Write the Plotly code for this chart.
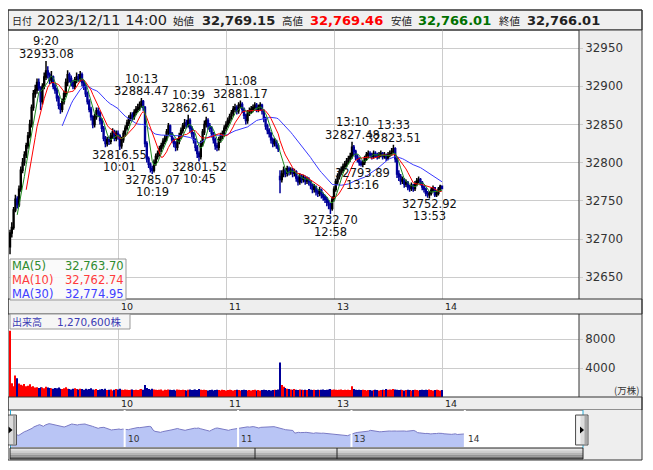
import plotly.graph_objects as go
import pandas as pd

W, H = 653, 470
OFF = 8  # page body margin: screen pixel p maps to figure pixel p - 8
def fx(p): return (p - OFF) / W
def fy(p): return 1 - (p - OFF) / H

FONT = "DejaVu Sans, Noto Sans CJK JP"
JP = "Noto Sans CJK JP, DejaVu Sans"

# ---------------- data (1-minute bars, index = trading minute from 9:00; 150 = 12:30) -------------
minutes = list(range(241))
opens = [32690, 32708, 32715, 32738, 32752, 32745, 32765, 32790, 32800, 32810,
         32822, 32835, 32850, 32872, 32890, 32895, 32905, 32898, 32880, 32900,
         32912, 32920, 32915, 32908, 32912, 32900, 32895, 32885, 32875, 32870,
         32880, 32890, 32905, 32915, 32910, 32905, 32900, 32908, 32912, 32910,
         32915, 32905, 32900, 32890, 32880, 32870, 32860, 32850, 32860, 32868,
         32865, 32855, 32845, 32832, 32825, 32830, 32828, 32835, 32840, 32832,
         32838, 32835, 32822, 32830, 32838, 32845, 32852, 32858, 32862, 32860,
         32866, 32870, 32872, 32876, 32880, 32872, 32825, 32805, 32798, 32792,
         32790, 32800, 32808, 32812, 32818, 32822, 32828, 32832, 32840, 32848,
         32838, 32830, 32825, 32820, 32828, 32835, 32842, 32848, 32852, 32850,
         32855, 32845, 32838, 32830, 32820, 32812, 32808, 32825, 32840, 32850,
         32855, 32848, 32845, 32838, 32830, 32822, 32820, 32830, 32835, 32838,
         32845, 32850, 32855, 32860, 32865, 32870, 32872, 32868, 32875, 32876,
         32870, 32862, 32855, 32865, 32868, 32870, 32872, 32875, 32870, 32872,
         32875, 32868, 32858, 32848, 32842, 32838, 32830, 32825, 32828, 32822,
         32782, 32778, 32785, 32790, 32786, 32792, 32788, 32790, 32786, 32788,
         32780, 32775, 32782, 32778, 32780, 32776, 32778, 32775, 32770, 32765,
         32768, 32762, 32760, 32764, 32758, 32755, 32752, 32748, 32745, 32740,
         32752, 32765, 32775, 32782, 32788, 32790, 32795, 32798, 32802, 32805,
         32808, 32820, 32815, 32808, 32805, 32800, 32798, 32800, 32805, 32810,
         32812, 32810, 32808, 32812, 32810, 32808, 32810, 32812, 32808, 32810,
         32806, 32810, 32812, 32815, 32818, 32805, 32785, 32782, 32776, 32778,
         32772, 32774, 32768, 32766, 32770, 32766, 32772, 32776, 32778, 32774,
         32768, 32765, 32760, 32758, 32760, 32764, 32767, 32758, 32760, 32765,
         32769.15]
highs = [32712, 32722, 32742, 32758, 32756, 32770, 32795, 32806, 32815, 32826,
         32840, 32856, 32876, 32895, 32902, 32910, 32910, 32900, 32904, 32918,
         32933.08, 32926, 32918, 32920, 32914, 32904, 32898, 32888, 32878, 32884,
         32894, 32910, 32921, 32918, 32914, 32908, 32912, 32918, 32916, 32920,
         32918, 32908, 32903, 32893, 32883, 32873, 32862, 32864, 32872, 32872,
         32868, 32858, 32848, 32835, 32834, 32834, 32839, 32845, 32843, 32842,
         32842, 32837, 32834, 32842, 32849, 32856, 32862, 32866, 32866, 32870,
         32874, 32877, 32880, 32884.47, 32882, 32874, 32828, 32808, 32800, 32796,
         32804, 32812, 32816, 32822, 32826, 32832, 32836, 32844, 32852, 32850,
         32840, 32833, 32828, 32832, 32839, 32846, 32852, 32857, 32856, 32862.61,
         32858, 32848, 32840, 32832, 32823, 32815, 32829, 32844, 32855, 32860,
         32858, 32852, 32848, 32840, 32833, 32826, 32834, 32839, 32842, 32849,
         32854, 32859, 32864, 32869, 32874, 32877, 32875, 32879, 32881.17, 32879,
         32872, 32864, 32869, 32872, 32874, 32876, 32879, 32878, 32876, 32879,
         32877, 32870, 32860, 32851, 32845, 32840, 32833, 32832, 32830, 32825,
         32790, 32790, 32795, 32793, 32796, 32795, 32794, 32793, 32792, 32790,
         32783, 32786, 32785, 32784, 32783, 32782, 32781, 32777, 32772, 32772,
         32770, 32765, 32768, 32766, 32761, 32758, 32755, 32751, 32747, 32756,
         32769, 32779, 32786, 32792, 32795, 32799, 32802, 32806, 32809, 32813,
         32827.48, 32823, 32817, 32811, 32807, 32803, 32803, 32809, 32814, 32816,
         32815, 32813, 32816, 32815, 32813, 32814, 32816, 32814, 32814, 32812,
         32814, 32816, 32819, 32823.51, 32820, 32807, 32790, 32785, 32782, 32780,
         32778, 32776, 32771, 32774, 32772, 32776, 32780, 32782, 32780, 32776,
         32770, 32767, 32763, 32763, 32767, 32770, 32768, 32764, 32768, 32771,
         32769.46]
lows = [32680, 32702, 32712, 32735, 32740, 32742, 32762, 32786, 32796, 32806,
        32818, 32832, 32846, 32868, 32885, 32890, 32894, 32869, 32876, 32896,
        32908, 32910, 32903, 32904, 32896, 32890, 32880, 32870, 32864, 32866,
        32876, 32886, 32900, 32905, 32900, 32896, 32896, 32904, 32906, 32906,
        32900, 32895, 32886, 32876, 32866, 32855, 32845, 32846, 32856, 32860,
        32850, 32840, 32828, 32820, 32821, 32823, 32824, 32831, 32828, 32828,
        32830, 32816.55, 32818, 32826, 32834, 32842, 32848, 32854, 32855, 32856,
        32862, 32866, 32868, 32872, 32868, 32820, 32800, 32793, 32787, 32785.07,
        32787, 32796, 32804, 32808, 32814, 32818, 32824, 32828, 32836, 32834,
        32826, 32820, 32815, 32816, 32824, 32831, 32838, 32844, 32845, 32846,
        32840, 32833, 32825, 32815, 32806, 32801.52, 32804, 32821, 32836, 32846,
        32843, 32840, 32833, 32825, 32817, 32815, 32816, 32826, 32831, 32834,
        32841, 32846, 32851, 32856, 32861, 32866, 32863, 32864, 32871, 32865,
        32857, 32850, 32851, 32861, 32864, 32866, 32868, 32866, 32866, 32868,
        32863, 32853, 32843, 32837, 32833, 32825, 32820, 32821, 32818, 32814,
        32760, 32774, 32781, 32781, 32782, 32783, 32784, 32781, 32782, 32775,
        32770, 32771, 32773, 32774, 32771, 32772, 32770, 32765, 32760, 32761,
        32757, 32755, 32756, 32753, 32750, 32747, 32743, 32739, 32732.70, 32737,
        32749, 32762, 32771, 32778, 32784, 32786, 32791, 32794, 32798, 32801,
        32805, 32810, 32803, 32800, 32796, 32795, 32793.89, 32797, 32802, 32806,
        32806, 32804, 32805, 32806, 32804, 32805, 32807, 32804, 32805, 32802,
        32803, 32807, 32809, 32812, 32800, 32780, 32776, 32771, 32772, 32767,
        32768, 32764, 32762, 32763, 32762, 32763, 32769, 32773, 32770, 32764,
        32761, 32756, 32754, 32752.92, 32757, 32761, 32755, 32755, 32757, 32762,
        32766.01]
closes = [32708, 32715, 32738, 32752, 32745, 32765, 32790, 32800, 32810, 32822,
          32835, 32850, 32872, 32890, 32895, 32905, 32898, 32880, 32900, 32912,
          32920, 32915, 32908, 32912, 32900, 32895, 32885, 32875, 32870, 32880,
          32890, 32905, 32915, 32910, 32905, 32900, 32908, 32912, 32910, 32915,
          32905, 32900, 32890, 32880, 32870, 32860, 32850, 32860, 32868, 32865,
          32855, 32845, 32832, 32825, 32830, 32828, 32835, 32840, 32832, 32838,
          32835, 32822, 32830, 32838, 32845, 32852, 32858, 32862, 32860, 32866,
          32870, 32872, 32876, 32880, 32872, 32825, 32805, 32798, 32792, 32790,
          32800, 32808, 32812, 32818, 32822, 32828, 32832, 32840, 32848, 32838,
          32830, 32825, 32820, 32828, 32835, 32842, 32848, 32852, 32850, 32855,
          32845, 32838, 32830, 32820, 32812, 32808, 32825, 32840, 32850, 32855,
          32848, 32845, 32838, 32830, 32822, 32820, 32830, 32835, 32838, 32845,
          32850, 32855, 32860, 32865, 32870, 32872, 32868, 32875, 32876, 32870,
          32862, 32855, 32865, 32868, 32870, 32872, 32875, 32870, 32872, 32875,
          32868, 32858, 32848, 32842, 32838, 32830, 32825, 32828, 32822, 32818,
          32778, 32785, 32790, 32786, 32792, 32788, 32790, 32786, 32788, 32780,
          32775, 32782, 32778, 32780, 32776, 32778, 32775, 32770, 32765, 32768,
          32762, 32760, 32764, 32758, 32755, 32752, 32748, 32745, 32740, 32752,
          32765, 32775, 32782, 32788, 32790, 32795, 32798, 32802, 32805, 32808,
          32820, 32815, 32808, 32805, 32800, 32798, 32800, 32805, 32810, 32812,
          32810, 32808, 32812, 32810, 32808, 32810, 32812, 32808, 32810, 32806,
          32810, 32812, 32815, 32818, 32805, 32785, 32782, 32776, 32778, 32772,
          32774, 32768, 32766, 32770, 32766, 32772, 32776, 32778, 32774, 32768,
          32765, 32760, 32758, 32760, 32764, 32767, 32758, 32760, 32765, 32769.15,
          32766.01]
volumes = [9150, 1900, 1500, 2950, 2600, 1850, 1700, 1600, 1800, 1500,
           1550, 1750, 1400, 1500, 1300, 1350, 1250, 1350, 1300, 1200,
           1400, 1300, 1250, 1200, 1150, 1250, 1200, 1300, 1150, 1100,
           1200, 1350, 1150, 1100, 1050, 1150, 1200, 1100, 1050, 1150,
           1100, 1000, 1150, 1050, 1100, 1200, 1050, 1000, 1100, 950,
           1050, 1100, 1000, 1150, 950, 1000, 1050, 900, 1000, 1100,
           1050, 1150, 1000, 950, 1050, 1000, 950, 1000, 1050, 950,
           1000, 950, 1050, 1100, 1000, 1650, 1250, 1100, 1000, 1150,
           1050, 1000, 950, 1000, 1050, 900, 1000, 950, 1050, 1000,
           950, 1000, 900, 1050, 1000, 950, 1000, 950, 900, 1000,
           1050, 950, 1000, 1050, 950, 1100, 1000, 950, 1000, 950,
           900, 950, 1000, 900, 950, 1000, 950, 900, 1000, 950,
           900, 950, 1000, 950, 900, 950, 1000, 950, 900, 950,
           1000, 950, 900, 950, 900, 950, 1000, 900, 950, 900,
           950, 1000, 950, 900, 950, 900, 950, 1000, 950, 1050,
           4750, 1650, 1400, 1250, 1150, 1100, 1050, 1000, 1100, 1000,
           950, 1050, 1000, 950, 1000, 950, 1100, 1000, 950, 1000,
           950, 1000, 950, 1000, 1050, 950, 1000, 1050, 1100, 1000,
           1050, 1000, 950, 1000, 1050, 950, 1000, 950, 1000, 950,
           1500, 1100, 1000, 950, 1000, 950, 1000, 950, 900, 950,
           950, 900, 950, 1000, 950, 900, 950, 1000, 950, 1100,
           1000, 1050, 1000, 1100, 1050, 1000, 950, 1000, 950, 900,
           950, 1000, 950, 900, 950, 1000, 950, 900, 950, 1000,
           950, 1000, 950, 1050, 950, 900, 950, 1000, 950, 900,
           950]

hour_ticks = [60, 120, 180, 240]
hour_labels = ["10", "11", "13", "14"]
price_ticks = [32650, 32700, 32750, 32800, 32850, 32900, 32950]
volume_ticks = [4000, 8000]

# extremes labelled on the chart
ext_index = [20, 61, 73, 79, 99, 105, 128, 178, 190, 196, 213, 233]
ext_time = ["9:20", "10:01", "10:13", "10:19", "10:39", "10:45", "11:08",
            "12:58", "13:10", "13:16", "13:33", "13:53"]
ext_kind = ["H", "L", "H", "L", "H", "L", "H", "L", "H", "L", "H", "L"]

header_date = "2023/12/11 14:00"
header_open, header_high, header_low, header_close = "32,769.15", "32,769.46", "32,766.01", "32,766.01"
ma_last = ["32,763.70", "32,762.74", "32,774.95"]
volume_total = "1,270,600株"

# ---------------- derived -----------------
cs = pd.Series(closes)
ma5 = cs.rolling(5).mean()
ma10 = cs.rolling(10).mean()
ma30 = cs.rolling(30).mean()
vol_colors = ["#ff0000" if c >= o else "#000099" for o, c in zip(opens, closes)]

fig = go.Figure()
fig.add_trace(go.Candlestick(
    x=minutes, open=opens, high=highs, low=lows, close=closes,
    increasing=dict(line=dict(color="#000000", width=1.5), fillcolor="#000000"),
    decreasing=dict(line=dict(color="#000099", width=1.5), fillcolor="#000099"),
    whiskerwidth=0, xaxis="x", yaxis="y", hoverinfo="skip", showlegend=False))
for s, col in [(ma30, "#3a3aff"), (ma10, "#ff0000"), (ma5, "#1f8a1f")]:
    fig.add_trace(go.Scatter(x=minutes, y=s, mode="lines", line=dict(color=col, width=1),
                             xaxis="x", yaxis="y", hoverinfo="skip", showlegend=False))
fig.add_trace(go.Bar(x=minutes, y=volumes, marker=dict(color=vol_colors, line=dict(width=0)),
                     width=0.55, xaxis="x2", yaxis="y2", hoverinfo="skip", showlegend=False))
fig.add_trace(go.Scatter(x=minutes, y=closes, mode="lines", fill="tozeroy",
                         fillcolor="#b9c5f5", line=dict(color="#7a7ac4", width=1),
                         xaxis="x3", yaxis="y3", hoverinfo="skip", showlegend=False))

XR = [-0.56, 316.1]
grid = "#cccccc"
fig.update_layout(
    width=W, height=H, margin=dict(l=0, r=0, t=0, b=0),
    paper_bgcolor="white", plot_bgcolor="white", showlegend=False,
    font=dict(family=FONT, size=11, color="#222"),
    xaxis=dict(domain=[fx(9), fx(579)], range=XR, tickvals=hour_ticks, showticklabels=False,
               showgrid=True, gridcolor=grid, gridwidth=1, zeroline=False, ticks="",
               rangeslider=dict(visible=False), fixedrange=True),
    yaxis=dict(domain=[fy(299), fy(29)], range=[32621.5, 32974.9], side="right", anchor="x",
               tickvals=price_ticks, ticktext=[str(v) for v in price_ticks],
               showgrid=True, gridcolor=grid, zeroline=False, ticks="outside", ticklen=3,
               tickcolor=grid, tickfont=dict(size=11.8, color="#333")),
    xaxis2=dict(domain=[fx(9), fx(579)], range=XR, tickvals=hour_ticks, showticklabels=False,
                showgrid=True, gridcolor=grid, zeroline=False, ticks="", anchor="y2"),
    yaxis2=dict(domain=[fy(397), fy(314)], range=[0, 11450], side="right", anchor="x2",
                tickvals=volume_ticks, ticktext=[str(v) for v in volume_ticks],
                showgrid=True, gridcolor=grid, zeroline=False, ticks="outside", ticklen=3,
                tickcolor=grid, tickfont=dict(size=11.8, color="#333")),
    xaxis3=dict(domain=[fx(10.5), fx(583)], range=[-0.4, 302.5], visible=False, anchor="y3"),
    yaxis3=dict(domain=[fy(447), fy(410)], range=[32570, 33125], visible=False, anchor="x3"),
    bargap=0.3,
)

shapes = []
def rect(x0, y0, x1, y1, fill=None, line=None, lw=1, layer="below"):
    shapes.append(dict(type="rect", xref="paper", yref="paper", x0=fx(x0), x1=fx(x1),
                       y0=fy(y1), y1=fy(y0), fillcolor=fill or "rgba(0,0,0,0)",
                       line=dict(color=line or "rgba(0,0,0,0)", width=lw if line else 0),
                       layer=layer))
def hline(x0, x1, y, color="#333", w=1, layer="above"):
    shapes.append(dict(type="line", xref="paper", yref="paper", x0=fx(x0), x1=fx(x1),
                       y0=fy(y), y1=fy(y), line=dict(color=color, width=w), layer=layer))
def vline(x, y0, y1, color="#333", w=1, layer="above"):
    shapes.append(dict(type="line", xref="paper", yref="paper", x0=fx(x), x1=fx(x),
                       y0=fy(y0), y1=fy(y1), line=dict(color=color, width=w), layer=layer))

GRAY = "#eeeeee"
# header
rect(8, 10, 642, 30, fill="#f0f0f0", line="#333", layer="below")
# right axis panels
rect(579, 30, 642, 299, fill=GRAY, layer="below")
rect(579, 314, 642, 397, fill=GRAY, layer="below")
vline(579, 30, 299)
vline(579, 314, 397)
# strips
rect(8, 299, 642, 314, fill=GRAY, line="#333", layer="above")
rect(8, 397, 642, 410, fill=GRAY, line="#333", layer="above")
# navigator
rect(583, 410, 642, 460, fill=GRAY, layer="above")
vline(10.5, 410, 448, color="#29a9d4")
vline(583, 410, 448, color="#29a9d4")
for t in hour_ticks:
    shapes.append(dict(type="line", xref="x3", yref="paper", x0=t, x1=t, y0=fy(448), y1=fy(410),
                       line=dict(color="white", width=2), layer="above"))
# scrollbar gradient
bands = ["#e4e4e4", "#cfcfcf", "#b4b4b4", "#959595", "#707070"]
for i, col in enumerate(bands):
    rect(10, 448 + i * 2.2, 583, 448 + (i + 1) * 2.2, fill=col, layer="above")
rect(10, 448, 583, 459, line="#222", layer="above")
vline(255, 448, 459, color="#222")
vline(337, 448, 459, color="#222")
# handles
for hx in (4, 575.5):
    rect(hx, 415, hx + 12.5, 445, fill="#dcdcdc", line="#555", layer="above")
    rect(hx + 1, 416, hx + 5, 444, fill="#f4f4f4", layer="above")
    rect(hx + 9, 416, hx + 11.5, 444, fill="#a8a8a8", layer="above")
    shapes.append(dict(type="path", xref="paper", yref="paper",
                       path="M {} {} L {} {} L {} {} Z".format(fx(hx + 4.5), fy(426.5), fx(hx + 8.5), fy(430), fx(hx + 4.5), fy(433.5)),
                       fillcolor="black", line=dict(width=0), layer="above"))
# MA legend box and volume legend box
rect(10, 259, 126, 300, fill="rgba(250,250,250,0.92)", line="#999", layer="above")
rect(10, 314, 130, 329, fill="rgba(245,245,245,0.95)", line="#999", layer="above")
# outer frame
rect(8, 10, 642, 460, line="#333", layer="above")
hline(8, 642, 30)
fig.update_layout(shapes=shapes)

ann = []
def text(t, x, y, anchor="left", size=11, color="#222", family=FONT, bold=False):
    if bold:
        t = "<b>" + t + "</b>"
    ann.append(dict(text=t, x=fx(x), y=fy(y), xref="paper", yref="paper", xanchor=anchor,
                    yanchor="middle", showarrow=False, font=dict(size=size, color=color, family=family),
                    borderpad=0))

# header
text("日付", 11, 20, size=10, family=JP)
text(header_date, 35.5, 20, size=14.5)
text("始値", 172, 20, size=10.5, family=JP)
text(header_open, 201, 20, size=13, bold=True, color="#222")
text("高値", 281, 20, size=10.5, family=JP)
text(header_high, 309, 20, size=13, bold=True, color="#ff0000")
text("安値", 390, 20, size=10.5, family=JP)
text(header_low, 417, 20, size=13, bold=True, color="#007000")
text("終値", 498, 20, size=10.5, family=JP)
text(header_close, 526, 20, size=13, bold=True, color="#222")

# MA legend
for (name, val, col), yy in zip([("MA(5)", ma_last[0], "#2e8b2e"), ("MA(10)", ma_last[1], "#ff3b3b"),
                                  ("MA(30)", ma_last[2], "#4040ff")], [266, 280, 294]):
    text(name, 11, yy, size=11.5, color=col)
    text(val, 125, yy, anchor="right", size=11.5, color=col)
# volume legend
text("出来高", 11, 321.5, size=10, color="#3c3cb4", family=JP)
text(volume_total, 56, 321.5, size=10.5, color="#3c3cb4")
text("(万株)", 640, 390, anchor="right", size=9.5, color="#333", family=JP)

# hour labels in the strips and navigator
for t, lab in zip(hour_ticks, hour_labels):
    for yy in (306.5, 403.5):
        ann.append(dict(text=lab, x=t, y=fy(yy), xref="x", yref="paper", xanchor="left",
                        yanchor="middle", xshift=1, showarrow=False,
                        font=dict(size=9.5, color="#222", family=FONT)))
    ann.append(dict(text=lab, x=t, y=fy(439), xref="x3", yref="paper", xanchor="left",
                    yanchor="middle", xshift=1, showarrow=False,
                    font=dict(size=9, color="#333", family=FONT)))

# extreme labels
for i, tm, kind in zip(ext_index, ext_time, ext_kind):
    if kind == "H":
        price = highs[i]
        lines = [(f"{price:.2f}", 7), (tm, 19.5)]
    else:
        price = lows[i]
        lines = [(f"{price:.2f}", -5.5), (tm, -17.5)]
    for t, sh in lines:
        ann.append(dict(text=t, x=i, y=price, xref="x", yref="y", xanchor="center",
                        yanchor="middle", yshift=sh, showarrow=False,
                        font=dict(size=11.5, color="#111", family=FONT)))

fig.update_layout(annotations=ann)
fig.write_html("out.html")
